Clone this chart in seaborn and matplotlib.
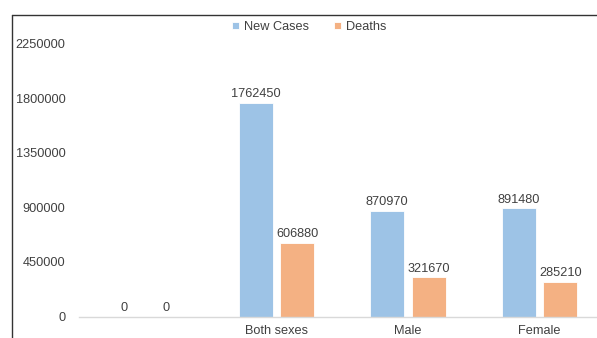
import matplotlib
matplotlib.use("Agg")
import matplotlib.pyplot as plt
from matplotlib.lines import Line2D
import pandas as pd
import seaborn as sns

# Chart data
categories = ["", "Both sexes", "Male", "Female"]
new_cases = [0, 1762450, 870970, 891480]
deaths = [0, 606880, 321670, 285210]
series_names = ["New Cases", "Deaths"]
y_ticks = [0, 450000, 900000, 1350000, 1800000, 2250000]

df = pd.DataFrame({
    "category": categories * 2,
    "value": new_cases + deaths,
    "series": [series_names[0]] * len(categories) + [series_names[1]] * len(categories),
})

sns.set_style("white")
plt.rcParams["font.family"] = ["Liberation Sans", "DejaVu Sans"]
text_color = "#404040"

W, H = 597, 338
fig = plt.figure(figsize=(W / 100, H / 100), dpi=100)
left, right = 79.25, 605.25
top, bottom = 43.5, 316.5
ax = fig.add_axes([left / W, 1 - bottom / H, (right - left) / W, (bottom - top) / H])

sns.barplot(
    data=df, x="category", y="value", hue="series", order=categories,
    hue_order=series_names, palette=["#9DC3E6", "#F4B183"], saturation=1,
    width=0.63, gap=0.17, edgecolor="white", linewidth=0.6, ax=ax,
)

for cont in ax.containers:
    ax.bar_label(cont, fmt="%d", padding=2, fontsize=9.2, color=text_color)

ax.set_ylim(0, 2250000)
ax.set_xlim(-0.5, len(categories) - 0.5)
ax.set_yticks(y_ticks)
ax.set_yticklabels([str(v) for v in y_ticks])
ax.set_xlabel("")
ax.set_ylabel("")
ax.tick_params(axis="y", length=0, pad=10, labelsize=9.2, labelcolor=text_color)
ax.tick_params(axis="x", length=0, pad=6, labelsize=9.2, labelcolor=text_color)
for side in ["left", "right", "top"]:
    ax.spines[side].set_visible(False)
ax.spines["bottom"].set_color("#d9d9d9")
ax.spines["bottom"].set_linewidth(1.0)

handles, labels = ax.get_legend_handles_labels()
ax.legend(
    handles, labels, loc="center", bbox_to_anchor=(309 / W, 1 - 27 / H),
    bbox_transform=fig.transFigure, ncol=2, frameon=False, fontsize=9.2,
    handlelength=0.55, handleheight=0.55, handletextpad=0.35,
    columnspacing=2.0, labelcolor=text_color,
)

# Outer frame lines along the top and left edges
fig.add_artist(Line2D([11.5 / W, 1], [1 - 15 / H, 1 - 15 / H], color="#333333", lw=1.0))
fig.add_artist(Line2D([12 / W, 12 / W], [0, 1 - 15 / H], color="#333333", lw=1.0))

fig.savefig("out.png", dpi=100)
